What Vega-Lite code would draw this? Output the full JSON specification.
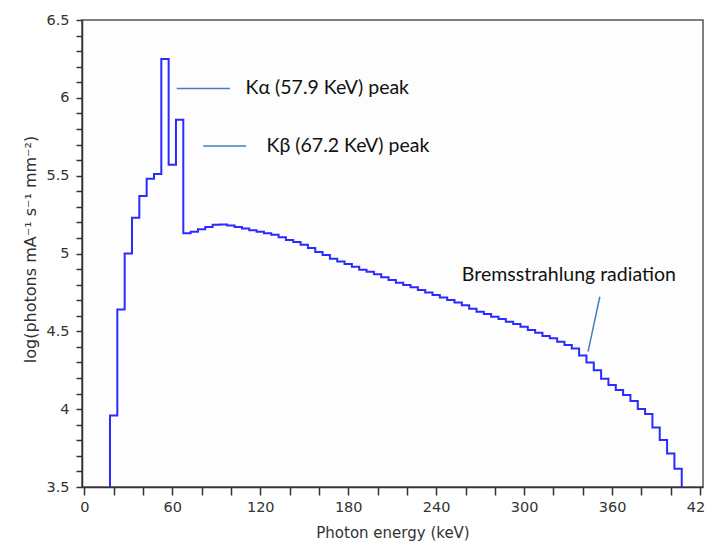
{
  "$schema": "https://vega.github.io/schema/vega-lite/v6.json",
  "width": 621,
  "height": 467,
  "autosize": {"type": "none"},
  "padding": {"left": 82, "top": 20, "right": 3, "bottom": 57},
  "background": "#ffffff",
  "config": {
    "view": {"stroke": "#555555", "strokeWidth": 1.5, "fill": "#fcfdfc"},
    "font": "DejaVu Sans"
  },
  "datasets": {
    "spectrum": [
      {"i": 0, "e": 17.5, "v": 3.5},
      {"i": 1, "e": 17.5, "v": 3.96},
      {"i": 2, "e": 22.5, "v": 4.64},
      {"i": 3, "e": 27.5, "v": 5.0},
      {"i": 4, "e": 32.5, "v": 5.23},
      {"i": 5, "e": 37.5, "v": 5.37},
      {"i": 6, "e": 42.5, "v": 5.48},
      {"i": 7, "e": 47.5, "v": 5.51},
      {"i": 8, "e": 52.5, "v": 6.25},
      {"i": 9, "e": 57.5, "v": 5.57},
      {"i": 10, "e": 62.5, "v": 5.86},
      {"i": 11, "e": 67.5, "v": 5.13},
      {"i": 12, "e": 72.5, "v": 5.14},
      {"i": 13, "e": 77.5, "v": 5.155},
      {"i": 14, "e": 82.5, "v": 5.17},
      {"i": 15, "e": 87.5, "v": 5.185},
      {"i": 16, "e": 92.5, "v": 5.187},
      {"i": 17, "e": 97.5, "v": 5.18},
      {"i": 18, "e": 102.5, "v": 5.17},
      {"i": 19, "e": 107.5, "v": 5.16},
      {"i": 20, "e": 112.5, "v": 5.15},
      {"i": 21, "e": 117.5, "v": 5.14},
      {"i": 22, "e": 122.5, "v": 5.13},
      {"i": 23, "e": 127.5, "v": 5.12},
      {"i": 24, "e": 132.5, "v": 5.104},
      {"i": 25, "e": 137.5, "v": 5.086},
      {"i": 26, "e": 142.5, "v": 5.074},
      {"i": 27, "e": 147.5, "v": 5.056},
      {"i": 28, "e": 152.5, "v": 5.035},
      {"i": 29, "e": 157.5, "v": 5.01},
      {"i": 30, "e": 162.5, "v": 4.99},
      {"i": 31, "e": 167.5, "v": 4.966},
      {"i": 32, "e": 172.5, "v": 4.948},
      {"i": 33, "e": 177.5, "v": 4.932},
      {"i": 34, "e": 182.5, "v": 4.915},
      {"i": 35, "e": 187.5, "v": 4.896},
      {"i": 36, "e": 192.5, "v": 4.882},
      {"i": 37, "e": 197.5, "v": 4.867},
      {"i": 38, "e": 202.5, "v": 4.848},
      {"i": 39, "e": 207.5, "v": 4.83},
      {"i": 40, "e": 212.5, "v": 4.812},
      {"i": 41, "e": 217.5, "v": 4.797},
      {"i": 42, "e": 222.5, "v": 4.783},
      {"i": 43, "e": 227.5, "v": 4.766},
      {"i": 44, "e": 232.5, "v": 4.749},
      {"i": 45, "e": 237.5, "v": 4.733},
      {"i": 46, "e": 242.5, "v": 4.718},
      {"i": 47, "e": 247.5, "v": 4.702},
      {"i": 48, "e": 252.5, "v": 4.686},
      {"i": 49, "e": 257.5, "v": 4.668},
      {"i": 50, "e": 262.5, "v": 4.645},
      {"i": 51, "e": 267.5, "v": 4.626},
      {"i": 52, "e": 272.5, "v": 4.611},
      {"i": 53, "e": 277.5, "v": 4.594},
      {"i": 54, "e": 282.5, "v": 4.579},
      {"i": 55, "e": 287.5, "v": 4.562},
      {"i": 56, "e": 292.5, "v": 4.547},
      {"i": 57, "e": 297.5, "v": 4.53},
      {"i": 58, "e": 302.5, "v": 4.508},
      {"i": 59, "e": 307.5, "v": 4.491},
      {"i": 60, "e": 312.5, "v": 4.47},
      {"i": 61, "e": 317.5, "v": 4.455},
      {"i": 62, "e": 322.5, "v": 4.433},
      {"i": 63, "e": 327.5, "v": 4.412},
      {"i": 64, "e": 332.5, "v": 4.39},
      {"i": 65, "e": 337.5, "v": 4.345},
      {"i": 66, "e": 342.5, "v": 4.3},
      {"i": 67, "e": 347.5, "v": 4.25},
      {"i": 68, "e": 352.5, "v": 4.195},
      {"i": 69, "e": 357.5, "v": 4.155},
      {"i": 70, "e": 362.5, "v": 4.123},
      {"i": 71, "e": 367.5, "v": 4.091},
      {"i": 72, "e": 372.5, "v": 4.052},
      {"i": 73, "e": 377.5, "v": 4.001},
      {"i": 74, "e": 382.5, "v": 3.969},
      {"i": 75, "e": 387.5, "v": 3.883},
      {"i": 76, "e": 392.5, "v": 3.802},
      {"i": 77, "e": 397.5, "v": 3.716},
      {"i": 78, "e": 402.5, "v": 3.618},
      {"i": 79, "e": 407.5, "v": 3.5}
    ],
    "pointers": [
      {"x1": 63, "x2": 99.3, "y1": 6.06, "y2": 6.06},
      {"x1": 81.1, "x2": 110.3, "y1": 5.69, "y2": 5.69},
      {"x1": 351.6, "x2": 343.6, "y1": 4.722, "y2": 4.37}
    ],
    "labels": [
      {"x": 110, "y": 6.06, "text": "Kα (57.9 KeV) peak"},
      {"x": 124.3, "y": 5.69, "text": "Kβ (67.2 KeV) peak"},
      {"x": 257.5, "y": 4.86, "text": "Bremsstrahlung radiation"}
    ]
  },
  "layer": [
    {
      "data": {"name": "spectrum"},
      "mark": {"type": "line", "interpolate": "step-after", "color": "#2b2bff", "strokeWidth": 2, "clip": true},
      "encoding": {
        "x": {
          "field": "e", "type": "quantitative",
          "scale": {"domain": [-1.6, 422], "nice": false, "zero": false},
          "axis": {
            "values": [0, 20, 40, 60, 80, 100, 120, 140, 160, 180, 200, 220, 240, 260, 280, 300, 320, 340, 360, 380, 400, 420],
            "tickCount": 100,
            "labelExpr": "datum.value % 60 == 0 ? toString(datum.value) : ''",
            "title": "Photon energy (keV)",
            "grid": false, "tickSize": 8, "labelPadding": 5,
            "domainColor": "#333333", "tickColor": "#333333", "domainWidth": 1.5, "tickWidth": 1.5,
            "labelColor": "#333333", "labelFontSize": 14.5, "labelFont": "DejaVu Sans",
            "labelOverlap": false, "labelFlush": false,
            "titleColor": "#333333", "titleFontSize": 15, "titleFontWeight": "normal", "titleFont": "DejaVu Sans",
            "titlePadding": 12, "zindex": 1
          }
        },
        "y": {
          "field": "v", "type": "quantitative",
          "scale": {"domain": [3.5, 6.5], "nice": false, "zero": false},
          "axis": {
            "values": [3.5, 3.6, 3.7, 3.8, 3.9, 4, 4.1, 4.2, 4.3, 4.4, 4.5, 4.6, 4.7, 4.8, 4.9, 5, 5.1, 5.2, 5.3, 5.4, 5.5, 5.6, 5.7, 5.8, 5.9, 6, 6.1, 6.2, 6.3, 6.4, 6.5],
            "tickCount": 100,
            "labelExpr": "round(datum.value * 2) == datum.value * 2 ? toString(datum.value) : ''",
            "title": "log(photons mA⁻¹ s⁻¹ mm⁻²)",
            "grid": false, "tickSize": 6, "labelPadding": 7,
            "domainColor": "#333333", "tickColor": "#333333", "domainWidth": 1.5, "tickWidth": 1.5,
            "labelColor": "#333333", "labelFontSize": 14.5, "labelFont": "DejaVu Sans",
            "titleColor": "#333333", "titleFontSize": 16, "titleFontWeight": "normal", "titleFont": "DejaVu Sans",
            "titleAngle": 270, "titleX": -52, "titleY": 229, "titleAlign": "center", "titleBaseline": "middle",
            "labelBound": false, "labelOverlap": false, "labelFlush": false, "zindex": 1
          }
        },
        "order": {"field": "i", "type": "quantitative"}
      }
    },
    {
      "data": {"name": "pointers"},
      "mark": {"type": "rule", "color": "#4a7ebb", "strokeWidth": 1.5},
      "encoding": {
        "x": {"field": "x1", "type": "quantitative"},
        "x2": {"field": "x2"},
        "y": {"field": "y1", "type": "quantitative"},
        "y2": {"field": "y2"}
      }
    },
    {
      "data": {"name": "labels"},
      "mark": {"type": "text", "align": "left", "baseline": "middle", "font": "Lato", "fontSize": 19.5, "color": "#111111"},
      "encoding": {
        "x": {"field": "x", "type": "quantitative"},
        "y": {"field": "y", "type": "quantitative"},
        "text": {"field": "text"}
      }
    }
  ]
}
